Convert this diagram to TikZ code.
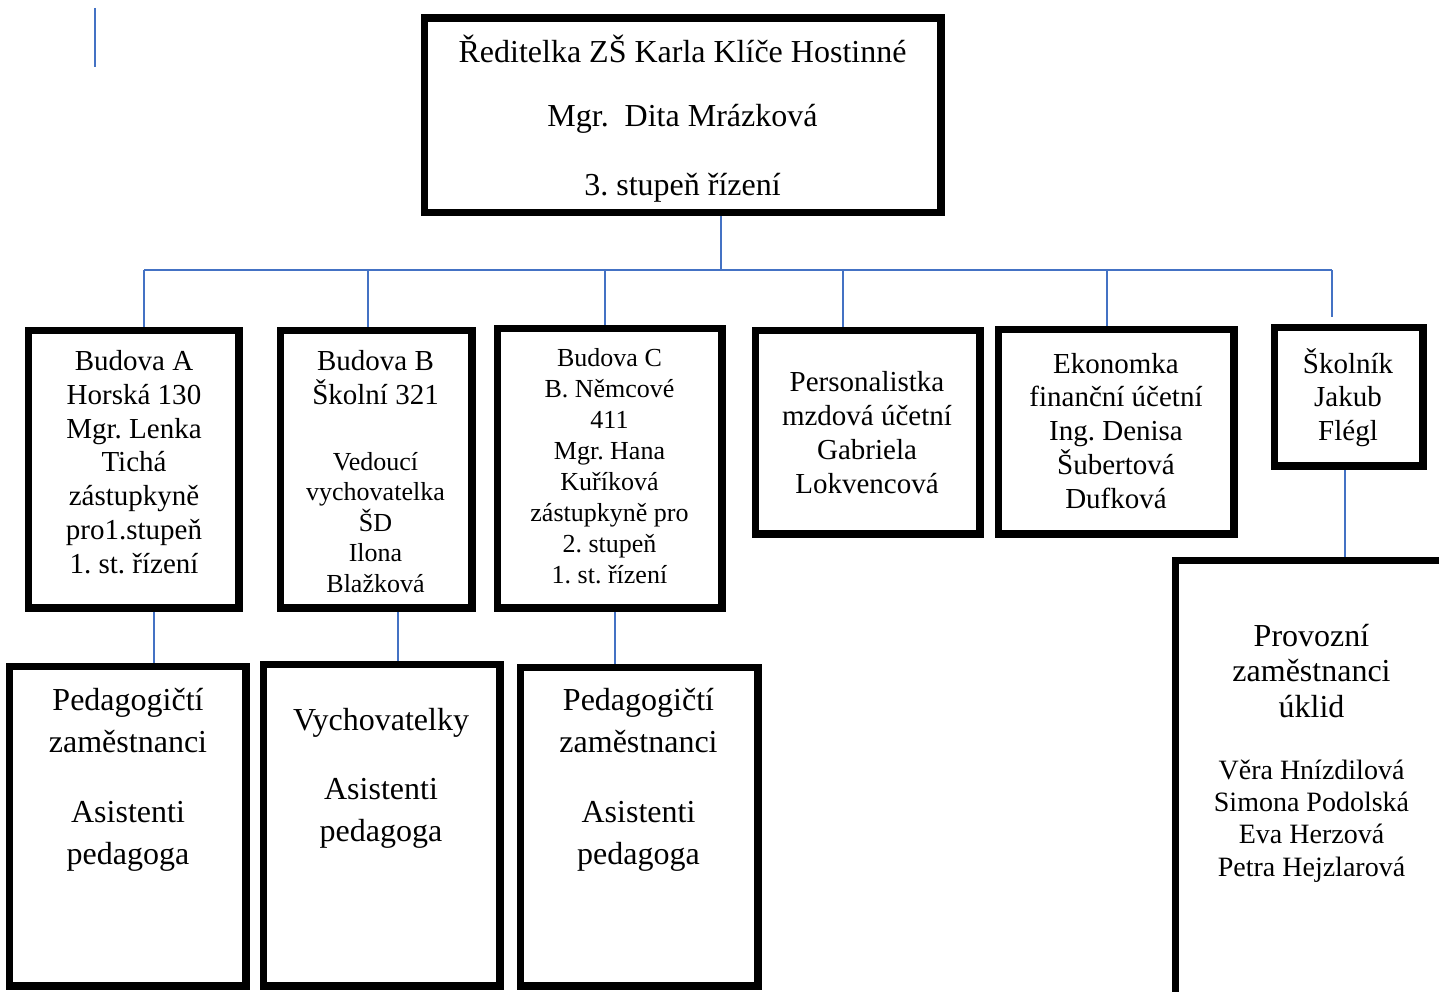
\documentclass[tikz,border=0pt]{standalone}
\usepackage{fontspec}
\setmainfont{Liberation Serif}
\frenchspacing
\definecolor{linkblue}{RGB}{68,114,196}
\begin{document}
\begin{tikzpicture}[x=1pt,y=-1pt,
  box/.style={draw=black, line width=5pt, rectangle, inner sep=0pt},
  conn/.style={draw=linkblue, line width=2pt},
  txt/.style={align=center, inner sep=0pt, anchor=base},
  fTop/.style={font=\fontsize{32}{64}\selectfont},
  fMid/.style={font=\fontsize{29}{33.7}\selectfont},
  fSmall/.style={font=\fontsize{26}{30.5}\selectfont},
  fC/.style={font=\fontsize{26}{31}\selectfont},
  fBig/.style={font=\fontsize{32}{42}\selectfont},
  fProv/.style={font=\fontsize{32}{35.5}\selectfont},
  fNames/.style={font=\fontsize{28}{32.3}\selectfont}
]
\useasboundingbox (0,0) rectangle (1439,992);

% boxes
\node[box, minimum width=514pt, minimum height=192pt] (T) at (682.5,115.5) {};
\node[box, minimum width=208pt, minimum height=275pt] (A) at (133.5,469) {};
\node[box, minimum width=189pt, minimum height=275pt] (B) at (376,469) {};
\node[box, minimum width=222pt, minimum height=277pt] (C) at (609.5,468) {};
\node[box, minimum width=222pt, minimum height=201pt] (P) at (867.5,432) {};
\node[box, minimum width=233pt, minimum height=202pt] (E) at (1116,431.5) {};
\node[box, minimum width=146pt, minimum height=136pt] (S) at (1348.5,396.5) {};
\node[box, minimum width=234pt, minimum height=317pt] (PA) at (127.5,826) {};
\node[box, minimum width=234pt, minimum height=319pt] (VB) at (381.5,825) {};
\node[box, minimum width=235pt, minimum height=316pt] (PC) at (639,826.5) {};
\node[box, minimum width=423.5pt, minimum height=638.5pt] (PR) at (1388.25,880.75) {};

% texts (anchor = baseline of the last line)
\node[txt, fTop] (tT) at (682.5,196) {Ředitelka ZŠ Karla Klíče Hostinné\\Mgr.\ \ Dita Mrázková\\[5pt]3. stupeň řízení};
\node[txt, fMid] (tA) at (134,573) {Budova A\\Horská 130\\Mgr. Lenka\\Tichá\\zástupkyně\\pro1.stupeň\\1. st. řízení};
\node[txt, fMid] (tB1) at (375.5,404) {Budova B\\Školní 321};
\node[txt, fSmall] (tB2) at (375.5,592) {Vedoucí\\vychovatelka\\ŠD\\Ilona\\Blažková};
\node[txt, fC] (tC) at (609.5,583) {Budova C\\B. Němcové\\411\\Mgr. Hana\\Kuříková\\zástupkyně pro\\2. stupeň\\1. st. řízení};
\node[txt, fMid] (tP) at (867,493) {Personalistka\\mzdová účetní\\Gabriela\\Lokvencová};
\node[txt, fMid] (tE) at (1116,508) {Ekonomka\\finanční účetní\\Ing. Denisa\\Šubertová\\Dufková};
\node[txt, fMid] (tS) at (1348,440.5) {Školník\\Jakub\\Flégl};
\node[txt, fBig] (tPA) at (128,864) {Pedagogičtí\\zaměstnanci\\[28pt]Asistenti\\pedagoga};
\node[txt, fBig] (tVB) at (381,841) {Vychovatelky\\[27pt]Asistenti\\pedagoga};
\node[txt, fBig] (tPC) at (638.5,864) {Pedagogičtí\\zaměstnanci\\[28pt]Asistenti\\pedagoga};
\node[txt, fProv] (tPR1) at (1311.5,717) {Provozní\\zaměstnanci\\úklid};
\node[txt, fNames] (tPR2) at (1311.5,876) {Věra Hnízdilová\\Simona Podolská\\Eva Herzová\\Petra Hejzlarová};

% connectors
\coordinate (s1) at (95,8);
\coordinate (s2) at (95,67);
\draw[conn] (s1) -- (s2);

\coordinate (busL) at (144,270);
\coordinate (busR) at (1332,270);
\coordinate (xT) at (721,270);
\coordinate (xB) at (368,270);
\coordinate (xC) at (605,270);
\coordinate (xP) at (843,270);
\coordinate (xE) at (1107,270);
\coordinate (sEnd) at (1332,317);
\draw[conn] (T.south -| xT) -- (xT);
\draw[conn] (busL) -- (busR);
\draw[conn] (busL) -- (A.north -| busL);
\draw[conn] (xB) -- (B.north -| xB);
\draw[conn] (xC) -- (C.north -| xC);
\draw[conn] (xP) -- (P.north -| xP);
\draw[conn] (xE) -- (E.north -| xE);
\draw[conn] (busR) -- (sEnd);

\coordinate (dA) at (154,0);
\coordinate (dB) at (398,0);
\coordinate (dC) at (615,0);
\coordinate (dS) at (1345,0);
\draw[conn] (A.south -| dA) -- (PA.north -| dA);
\draw[conn] (B.south -| dB) -- (VB.north -| dB);
\draw[conn] (C.south -| dC) -- (PC.north -| dC);
\draw[conn] (S.south -| dS) -- (PR.north -| dS);

% redraw box borders above connector ends
\foreach \n in {T,A,B,C,P,E,S,PA,VB,PC,PR}{\draw[line width=5pt] (\n.north west) rectangle (\n.south east);}
\end{tikzpicture}
\end{document}
